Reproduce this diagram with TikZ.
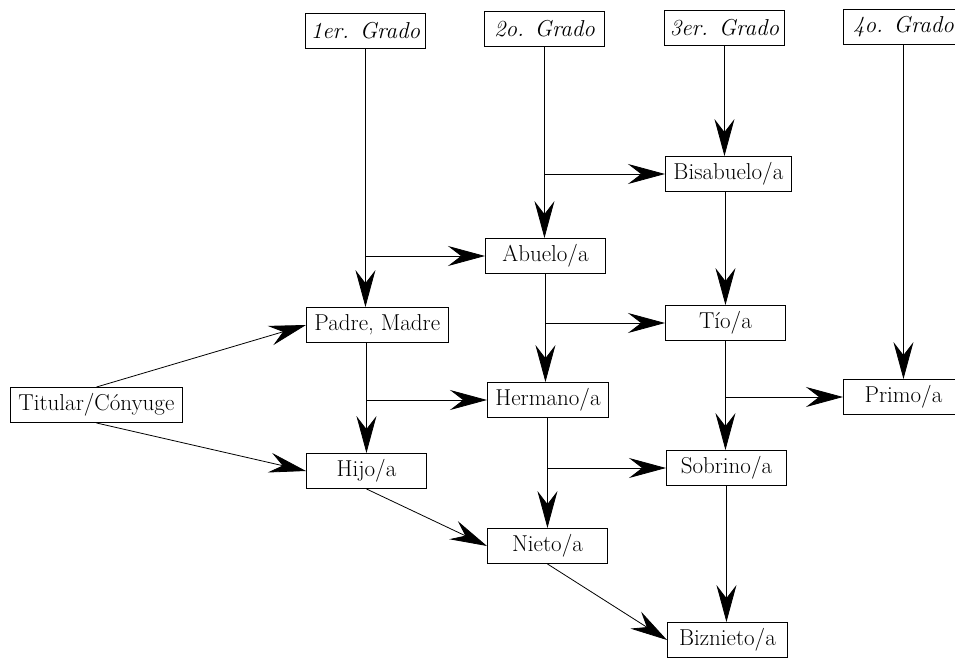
\documentclass[tikz,border=0pt]{standalone}
\usepackage{fontspec}
\usetikzlibrary{arrows.meta}
\tikzset{
  caja/.style={draw, line width=0.9pt, minimum width=120pt, minimum height=35pt,
    inner xsep=8pt, anchor=west, font=\fontsize{23}{27}\selectfont},
  grado/.style={caja, inner xsep=4pt, font=\fontsize{23}{27}\selectfont\itshape},
  flecha/.style={line width=0.8pt, -{Stealth[length=37pt,width=20pt,inset=13pt]}}
}
\begin{document}
\begin{tikzpicture}[x=1pt,y=-1pt]
   \useasboundingbox (0,0) rectangle (955,658);
   % grados
   \node[grado] (g1) at (305,31) {1er. Grado};
   \node[grado] (g2) at (484,29) {2o. Grado};
   \node[grado] (g3) at (664,28) {3er. Grado};
   \node[grado] (g4) at (843,27) {4o. Grado};
   % parientes
   \node[caja] (bis) at (665,174) {Bisabuelo/a};
   \node[caja] (abuelo) at (485,256) {Abuelo/a};
   \node[caja] (tio) at (665,323) {Tío/a};
   \node[caja] (padre) at (306,325) {Padre, Madre};
   \node[caja] (tit) at (10,405) {Titular/Cónyuge};
   \node[caja] (herm) at (487,400) {Hermano/a};
   \node[caja] (primo) at (843,397) {Primo/a};
   \node[caja] (hijo) at (306,471) {Hijo/a};
   \node[caja] (sob) at (666,468) {Sobrino/a};
   \node[caja] (nieto) at (487,546) {Nieto/a};
   \node[caja] (biz) at (667,640) {Biznieto/a};
   % lineas de grado
   \draw[flecha] (g1.south) -- (g1.south |- padre.north);
   \draw[flecha] (g2.south) -- (g2.south |- abuelo.north);
   \draw[flecha] (g3.south) -- (g3.south |- bis.north);
   \draw[flecha] (g4.south) -- (g4.south |- primo.north);
   \draw[flecha] (tio.north |- bis.south) -- (tio.north);
   \draw[flecha] (abuelo.south) -- (abuelo.south |- herm.north);
   \draw[flecha] (hijo.north |- padre.south) -- (hijo.north);
   \draw[flecha] (tio.south) -- (tio.south |- sob.north);
   \draw[flecha] (nieto.north |- herm.south) -- (nieto.north);
   \draw[flecha] (sob.south) -- (sob.south |- biz.north);
   % ramas
   \draw[flecha] (g1.south |- abuelo.west) -- (abuelo.west);
   \draw[flecha] (g2.south |- bis.west) -- (bis.west);
   \draw[flecha] (abuelo.south |- tio.west) -- (tio.west);
   \draw[flecha] (hijo.north |- herm.west) -- (herm.west);
   \draw[flecha] (tio.south |- primo.west) -- (primo.west);
   \draw[flecha] (nieto.north |- sob.west) -- (sob.west);
   % diagonales
   \draw[flecha] (tit.north) -- (padre.west);
   \draw[flecha] (tit.south) -- (hijo.west);
   \draw[flecha] (hijo.south) -- (nieto.west);
   \draw[flecha] (nieto.south) -- (biz.west);
\end{tikzpicture}
\end{document}
